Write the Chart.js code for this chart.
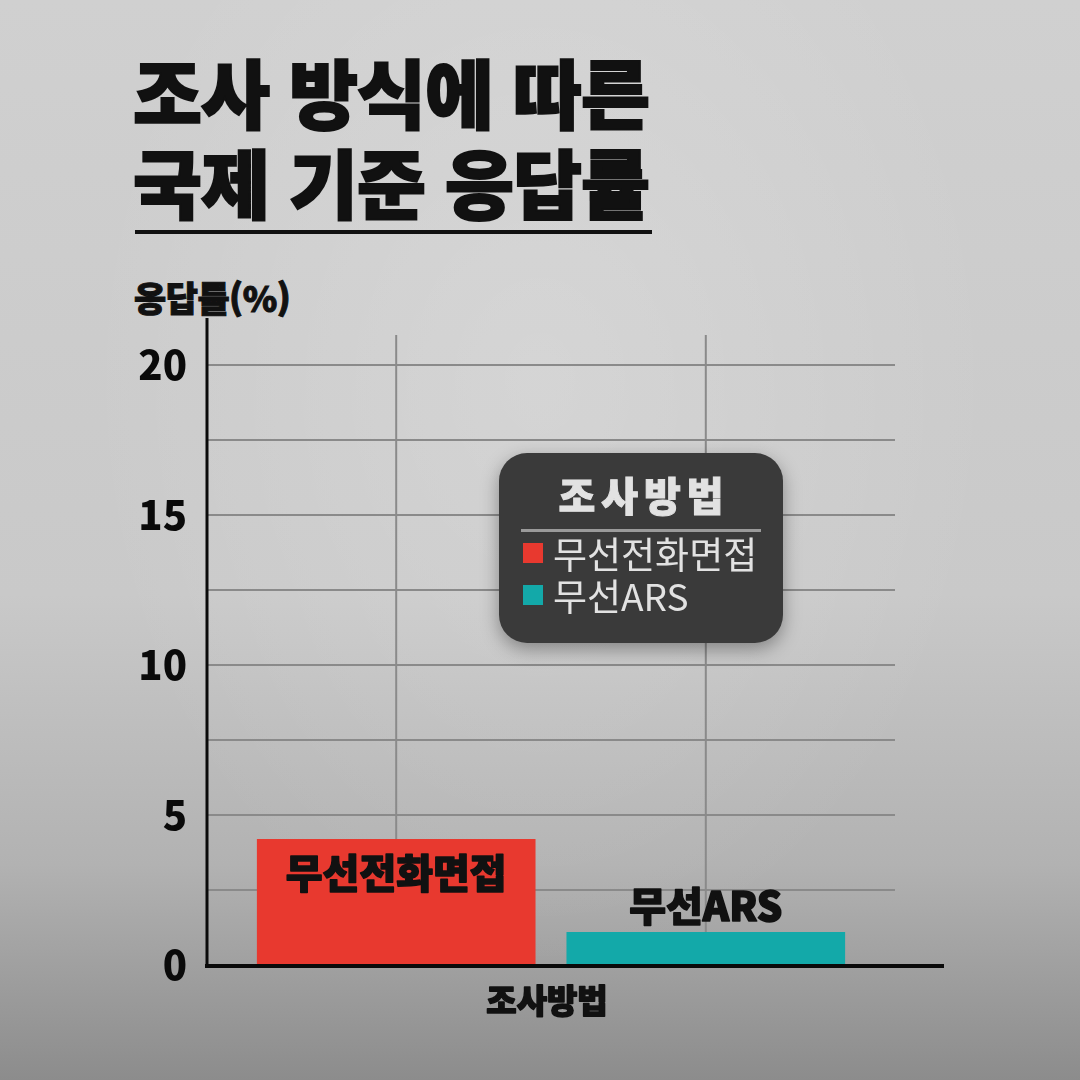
<!DOCTYPE html>
<html lang="ko">
<head>
<meta charset="utf-8">
<script src="https://cdn.jsdelivr.net/npm/chart.js@4"></script>
<style>
  html, body { margin: 0; padding: 0; }
  body {
    width: 1080px; height: 1080px; overflow: hidden; position: relative;
    font-family: "Noto Sans CJK KR", sans-serif;
    background:
      radial-gradient(ellipse at 50% 35%, rgba(255,255,255,0.18) 0%, rgba(255,255,255,0) 60%),
      linear-gradient(180deg, #d0d0d0 0%, #c9c9c9 55%, #b2b2b2 80%, #8c8c8c 100%);
  }
  #title {
    position: absolute; left: 133px; top: 46px;
    font-size: 75px; font-weight: 900; line-height: 90px; color: #111;
    letter-spacing: -1px; -webkit-text-stroke: 2px #111;
  }
  #rule { position: absolute; left: 135px; top: 230px; width: 517px; height: 4px; background: #111; }
  #yTitle {
    position: absolute; left: 134px; top: 271px;
    font-size: 35px; font-weight: 900; color: #111; letter-spacing: -0.5px;
    -webkit-text-stroke: 1px #111;
  }
  #chart { position: absolute; left: 0; top: 0; }
  #legend {
    position: absolute; left: 499px; top: 453px; width: 284px; height: 190px;
    background: #3a3a3a; border-radius: 28px; box-sizing: border-box;
    box-shadow: 0 6px 18px rgba(0,0,0,0.35); color: #e2e2e2;
  }
  #legend .head {
    text-align: center; font-size: 40px; font-weight: 900; letter-spacing: 6px;
    margin-top: 16px; line-height: 50px; -webkit-text-stroke: 1px #e2e2e2;
    padding-left: 6px;
  }
  #legend .line { margin: 10px 22px 0 22px; height: 3px; background: #9a9a9a; }
  #legend .item {
    display: flex; align-items: center; font-size: 37px; line-height: 42px;
    margin-left: 24px; letter-spacing: 0;
  }
  #legend .item:first-of-type { margin-top: 12px; }
  #legend .sw { width: 20px; height: 20px; margin-right: 10px; }
</style>
</head>
<body>
<div id="title">조사 방식에 따른<br>국제 기준 응답률</div>
<div id="rule"></div>
<div id="yTitle">응답률(%)</div>
<canvas id="chart" width="1080" height="1080"></canvas>
<div id="legend"></div>
<script>
const categories = ["조사방법"];
const seriesNames = ["무선전화면접", "무선ARS"];
const seriesValues = [4.2, 1.1];
const seriesColors = ["#e8392f", "#13a9a9"];
const yTickLabels = [0, 5, 10, 15, 20];

const legendTitle = "조사방법";
const xTitle = "조사방법";

// build legend box from the series
const legend = document.getElementById("legend");
legend.innerHTML = `<div class="head">${legendTitle}</div><div class="line"></div>` +
  seriesNames.map((name, i) =>
    `<div class="item"><span class="sw" style="background:${seriesColors[i]}"></span>${name}</div>`
  ).join("");

const FONT = '"Noto Sans CJK KR", sans-serif';

function heavyText(ctx, text, x, y) {
  ctx.strokeText(text, x, y);
  ctx.fillText(text, x, y);
}

// vertical grid at bar centres, axis lines, bar labels, x title
const decorPlugin = {
  id: "decor",
  beforeDatasetsDraw(chart) {
    const { ctx, chartArea, scales } = chart;
    ctx.save();
    ctx.strokeStyle = "#8a8a8a";
    ctx.lineWidth = 2;
    chart.data.datasets.forEach((ds, i) => {
      const bar = chart.getDatasetMeta(i).data[0];
      ctx.beginPath();
      ctx.moveTo(bar.x, scales.y.getPixelForValue(21));
      ctx.lineTo(bar.x, chartArea.bottom);
      ctx.stroke();
    });
    ctx.restore();
  },
  afterDatasetsDraw(chart) {
    const { ctx, chartArea } = chart;
    ctx.save();
    // axis lines
    ctx.strokeStyle = "#0a0a0a";
    ctx.lineWidth = 3;
    ctx.beginPath();
    ctx.moveTo(chartArea.left, chartArea.top - 2);
    ctx.lineTo(chartArea.left, chartArea.bottom + 2);
    ctx.stroke();
    ctx.lineWidth = 4;
    ctx.beginPath();
    ctx.moveTo(chartArea.left - 2, chartArea.bottom + 1);
    ctx.lineTo(944, chartArea.bottom + 1);
    ctx.stroke();

    // labels on bars
    ctx.fillStyle = "#111";
    ctx.strokeStyle = "#111";
    ctx.lineWidth = 1.5;
    ctx.lineJoin = "round";
    ctx.font = `900 40px ${FONT}`;
    ctx.textAlign = "center";
    ctx.textBaseline = "middle";
    chart.data.datasets.forEach((ds, i) => {
      const bar = chart.getDatasetMeta(i).data[0];
      const h = bar.base - bar.y;
      const y = h > 80 ? bar.y + 34 : bar.y - 26;
      heavyText(ctx, ds.label, bar.x, y);
    });

    // x axis title
    ctx.font = `900 33px ${FONT}`;
    heavyText(ctx, xTitle, 547, 1000);
    ctx.restore();
  }
};

new Chart(document.getElementById("chart"), {
  type: "bar",
  data: {
    labels: categories,
    datasets: seriesNames.map((name, i) => ({
      label: name,
      data: [seriesValues[i]],
      backgroundColor: seriesColors[i],
      borderWidth: 0,
      categoryPercentage: 0.9,
      barPercentage: 0.9
    }))
  },
  options: {
    responsive: false,
    animation: false,
    devicePixelRatio: 1,
    layout: { padding: { left: 127, right: 185, top: 320, bottom: 115 } },
    plugins: { legend: { display: false }, tooltip: { enabled: false } },
    scales: {
      x: { display: false },
      y: {
        min: 0,
        max: 21.5,
        afterFit: s => { s.width = 80; },
        afterBuildTicks: s => {
          s.ticks = s.ticks.filter(t => t.value % 2.5 === 0);
        },
        ticks: {
          stepSize: 2.5,
          padding: 20,
          color: "#0a0a0a",
          font: { family: FONT, size: 40, weight: "900" },
          callback: v => yTickLabels.includes(v) ? String(v) : ""
        },
        grid: { color: "#8a8a8a", lineWidth: 2, drawTicks: false },
        border: { display: false }
      }
    }
  },
  plugins: [decorPlugin]
});
</script>
</body>
</html>
